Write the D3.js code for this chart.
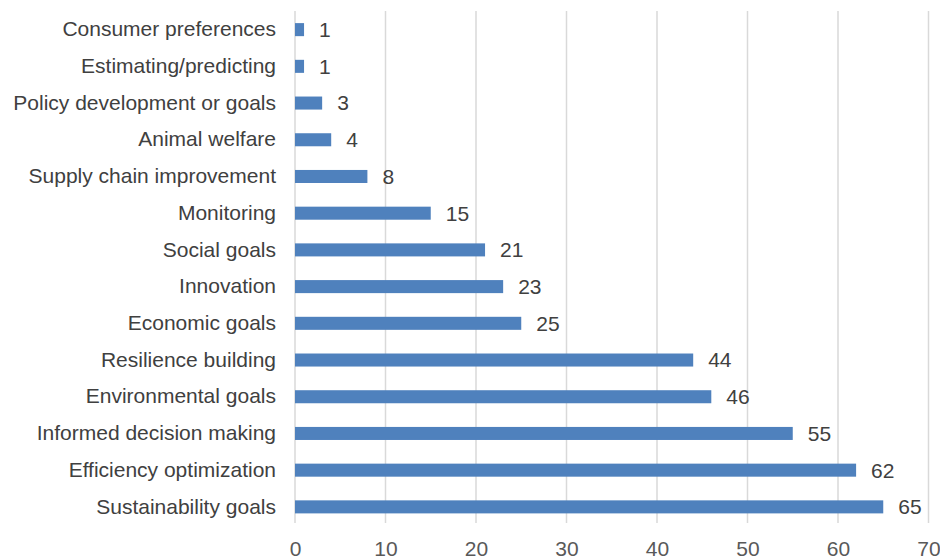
<!DOCTYPE html>
<html>
<head>
<meta charset="utf-8">
<script src="https://cdn.jsdelivr.net/npm/d3@7"></script>
<style>
  html, body { margin: 0; padding: 0; background: #ffffff; }
  svg { display: block; font-family: "Liberation Sans", Arial, sans-serif; }
</style>
</head>
<body>
<svg id="chart" width="940" height="560"></svg>
<script>
// Purposes, listed top to bottom, with the count for each
const categories = [
  "Consumer preferences",
  "Estimating/predicting",
  "Policy development or goals",
  "Animal welfare",
  "Supply chain improvement",
  "Monitoring",
  "Social goals",
  "Innovation",
  "Economic goals",
  "Resilience building",
  "Environmental goals",
  "Informed decision making",
  "Efficiency optimization",
  "Sustainability goals"
];
const counts = [1, 1, 3, 4, 8, 15, 21, 23, 25, 44, 46, 55, 62, 65];
const xTicks = [0, 10, 20, 30, 40, 50, 60, 70];

const svg = d3.select("#chart");
const plot = { left: 295, right: 928.5, top: 11, bottom: 523 };
const fontSize = 21;

const x = d3.scaleLinear().domain([0, 70]).range([plot.left, plot.right]);
const y = d3.scaleBand().domain(categories).range([plot.top, 525.5]).paddingInner(0.645).paddingOuter(0.33);

// vertical gridlines
svg.append("g")
  .selectAll("line")
  .data(xTicks)
  .join("line")
  .attr("x1", d => x(d)).attr("x2", d => x(d))
  .attr("y1", plot.top).attr("y2", plot.bottom)
  .attr("stroke", "#d9d9d9")
  .attr("stroke-width", 1.5);

// x axis tick labels
const xAxis = d3.axisBottom(x).tickValues(xTicks).tickSize(0).tickPadding(0);
const gx = svg.append("g").attr("transform", `translate(0,${plot.bottom})`).call(xAxis);
gx.select(".domain").remove();
gx.selectAll("text")
  .attr("dy", null)
  .attr("y", 33)
  .attr("font-size", fontSize)
  .attr("font-family", "Liberation Sans, Arial, sans-serif")
  .attr("fill", "#595959");

// category labels
const yAxis = d3.axisLeft(y).tickSize(0).tickPadding(0);
const gy = svg.append("g").attr("transform", `translate(276,0)`).call(yAxis);
gy.select(".domain").remove();
gy.selectAll("text")
  .attr("font-size", fontSize)
  .attr("font-family", "Liberation Sans, Arial, sans-serif")
  .attr("fill", "#404040");

// bars
svg.append("g")
  .selectAll("rect")
  .data(categories)
  .join("rect")
  .attr("x", x(0))
  .attr("y", d => y(d))
  .attr("width", (d, i) => x(counts[i]) - x(0))
  .attr("height", y.bandwidth())
  .attr("fill", "#4f81bd");

// value labels
svg.append("g")
  .selectAll("text")
  .data(categories)
  .join("text")
  .attr("x", (d, i) => x(counts[i]) + 15)
  .attr("y", d => y(d) + y.bandwidth() / 2)
  .attr("dy", "0.35em")
  .attr("font-size", fontSize)
  .attr("fill", "#404040")
  .text((d, i) => counts[i]);
</script>
</body>
</html>
